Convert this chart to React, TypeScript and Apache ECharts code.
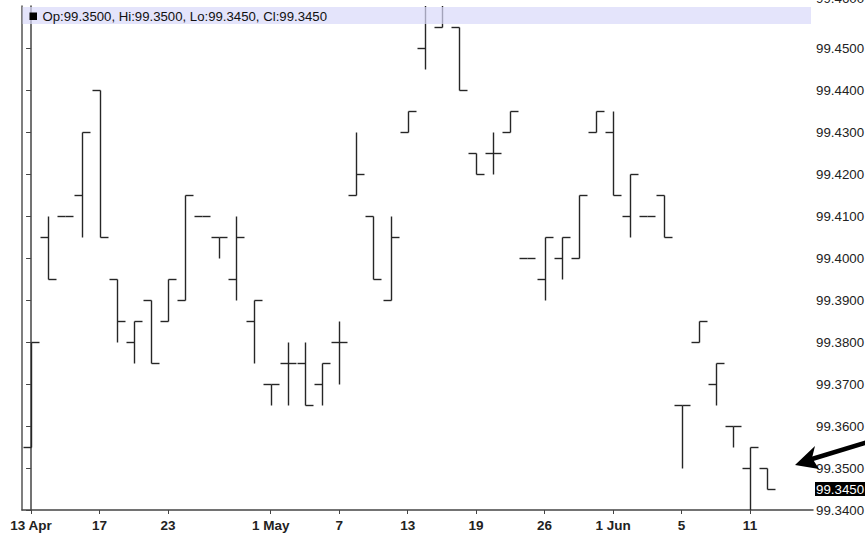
import React, { useEffect, useRef } from "react";
import * as echarts from "echarts";

const tradingDays = [
  "13 Apr", "14 Apr", "15 Apr", "16 Apr", "17 Apr", "20 Apr", "21 Apr", "22 Apr", "23 Apr", "24 Apr",
  "27 Apr", "28 Apr", "29 Apr", "30 Apr", "1 May", "4 May", "5 May", "6 May", "7 May", "8 May",
  "11 May", "12 May", "13 May", "14 May", "15 May", "18 May", "19 May", "20 May", "21 May", "22 May",
  "26 May", "27 May", "28 May", "29 May", "1 Jun", "2 Jun", "3 Jun", "4 Jun", "5 Jun", "8 Jun",
  "9 Jun", "10 Jun", "11 Jun", "12 Jun",
];

const openValues = [
  99.355, 99.405, 99.41, 99.415, 99.44, 99.395, 99.38, 99.39, 99.385, 99.39,
  99.41, 99.405, 99.395, 99.385, 99.37, 99.375, 99.375, 99.37, 99.38, 99.415,
  99.41, 99.39, 99.43, 99.45, 99.455, 99.455, 99.425, 99.425, 99.43, 99.4,
  99.395, 99.4, 99.4, 99.43, 99.43, 99.41, 99.41, 99.415, 99.365, 99.38,
  99.37, 99.36, 99.35, 99.35,
];
const highValues = [
  99.38, 99.41, 99.41, 99.43, 99.44, 99.395, 99.385, 99.39, 99.395, 99.415,
  99.41, 99.405, 99.41, 99.39, 99.37, 99.38, 99.38, 99.375, 99.385, 99.43,
  99.41, 99.41, 99.435, 99.47, 99.47, 99.455, 99.425, 99.43, 99.435, 99.4,
  99.405, 99.405, 99.415, 99.435, 99.435, 99.42, 99.41, 99.415, 99.365, 99.385,
  99.375, 99.36, 99.355, 99.35,
];
const lowValues = [
  99.355, 99.395, 99.41, 99.405, 99.405, 99.38, 99.375, 99.375, 99.385, 99.39,
  99.41, 99.4, 99.39, 99.375, 99.365, 99.365, 99.365, 99.365, 99.37, 99.415,
  99.395, 99.39, 99.43, 99.445, 99.455, 99.44, 99.42, 99.42, 99.43, 99.4,
  99.39, 99.395, 99.4, 99.43, 99.415, 99.405, 99.41, 99.405, 99.35, 99.38,
  99.365, 99.355, 99.34, 99.345,
];
const closeValues = [
  99.38, 99.395, 99.41, 99.43, 99.405, 99.385, 99.385, 99.375, 99.395, 99.415,
  99.41, 99.405, 99.405, 99.39, 99.37, 99.375, 99.365, 99.375, 99.38, 99.42,
  99.395, 99.405, 99.435, 99.465, 99.465, 99.44, 99.42, 99.425, 99.435, 99.4,
  99.405, 99.405, 99.415, 99.435, 99.415, 99.42, 99.41, 99.405, 99.365, 99.385,
  99.375, 99.36, 99.355, 99.345,
];

const tickDates = ["13 Apr", "17 Apr", "23 Apr", "1 May", "7 May", "13 May", "19 May", "26 May", "1 Jun", "5 Jun", "11 Jun"];
const tickLabels = ["13 Apr", "17", "23", "1 May", "7", "13", "19", "26", "1 Jun", "5", "11"];

const yMin = 99.34;
const yMax = 99.46;
const yStep = 0.01;

const FONT = "'Liberation Sans', Arial, sans-serif";
const INK = "#262626";
const YFS = 13.3;

export default function App() {
  const ref = useRef<HTMLDivElement>(null);

  useEffect(() => {
    const chart = echarts.init(ref.current!, null, { renderer: "svg" });
    const tickIdx = tickDates.map((d) => tradingDays.indexOf(d));
    const data = tradingDays.map((_, i) => [i, openValues[i], highValues[i], lowValues[i], closeValues[i]]);
    const last = tradingDays.length - 1;
    const header =
      "Op:" + openValues[last].toFixed(4) +
      ", Hi:" + highValues[last].toFixed(4) +
      ", Lo:" + lowValues[last].toFixed(4) +
      ", Cl:" + closeValues[last].toFixed(4);

    const option: any = {
      animation: false,
      backgroundColor: "#ffffff",
      grid: { left: 22, right: 52, top: 6, bottom: 26, containLabel: false, outerBoundsMode: "none" },
      xAxis: {
        type: "value",
        min: -0.53,
        max: 45.68,
        splitLine: { show: false },
        axisLine: { show: true, lineStyle: { color: "#444", width: 1.5 } },
        axisTick: { show: true, length: 4, customValues: tickIdx, lineStyle: { color: "#444", width: 1 } },
        axisLabel: {
          customValues: tickIdx,
          formatter: (v: number) => {
            const k = tickIdx.indexOf(Math.round(v));
            return k >= 0 ? tickLabels[k] : "";
          },
          fontFamily: FONT,
          fontWeight: "bold",
          fontSize: 13.5,
          color: "#222",
          margin: 8,
        },
      },
      yAxis: [
        {
          type: "value",
          position: "right",
          min: yMin,
          max: yMax,
          interval: yStep,
          splitLine: { show: false },
          axisLine: { show: true, lineStyle: { color: "#444", width: 1.5 } },
          axisTick: { show: true, inside: true, length: 5, lineStyle: { color: "#444" } },
          axisLabel: {
            margin: 3,
            fontFamily: FONT,
            fontSize: YFS,
            color: "#222",
            showMaxLabel: false,
            formatter: (v: number) => v.toFixed(4),
          },
        },
        {
          type: "value",
          position: "left",
          min: yMin,
          max: yMax,
          interval: yStep,
          splitLine: { show: false },
          axisLine: { show: true, lineStyle: { color: "#555", width: 1.5 } },
          axisTick: { show: false },
          axisLabel: { show: false },
        },
        {
          type: "value",
          position: "right",
          min: yMin,
          max: yMax,
          splitLine: { show: false },
          axisLine: { show: false },
          axisTick: { show: false },
          axisLabel: {
            customValues: [closeValues[last]],
            formatter: (v: number) => v.toFixed(4),
            margin: 2,
            fontFamily: FONT,
            fontSize: YFS,
            color: "#fff",
            backgroundColor: "#000",
            padding: [1, 1, 0, 1],
          },
        },
      ],
      series: [
        {
          type: "custom",
          clip: true,
          data,
          encode: { x: 0, y: [1, 2, 3, 4] },
          renderItem: (params: any, api: any) => {
            const x = api.value(0);
            const o = api.coord([x, api.value(1)]);
            const h = api.coord([x, api.value(2)]);
            const l = api.coord([x, api.value(3)]);
            const c = api.coord([x, api.value(4)]);
            const px = Math.round(o[0]) + 0.5;
            const r = (y: number) => Math.round(y) + 0.5;
            const t = 8;
            const st = { stroke: INK, lineWidth: 1.4 };
            return {
              type: "group",
              children: [
                { type: "line", shape: { x1: px, y1: r(h[1]), x2: px, y2: r(l[1]) }, style: st },
                { type: "line", shape: { x1: px - t, y1: r(o[1]), x2: px, y2: r(o[1]) }, style: st },
                { type: "line", shape: { x1: px, y1: r(c[1]), x2: px + t, y2: r(c[1]) }, style: st },
              ],
            };
          },
        },
      ],
      graphic: [
        {
          type: "rect",
          z: 100,
          shape: { x: 22.5, y: 7, width: 788.5, height: 17 },
          style: { fill: "rgba(216,216,250,0.7)" },
          silent: true,
        },
        {
          type: "rect",
          z: 101,
          shape: { x: 29.5, y: 12.5, width: 7.5, height: 7.5 },
          style: { fill: "#000" },
          silent: true,
        },
        {
          type: "text",
          z: 101,
          x: 42.5,
          y: 16.5,
          style: {
            text: header,
            fontFamily: FONT,
            fontSize: 13.2,
            fill: "#111",
            verticalAlign: "middle",
          },
          silent: true,
        },
        {
          type: "text",
          z: 101,
          x: 816,
          y: -2,
          style: {
            text: yMax.toFixed(4),
            fontFamily: FONT,
            fontSize: YFS,
            fill: "#222",
            verticalAlign: "middle",
          },
          silent: true,
        },
        {
          type: "line",
          z: 102,
          shape: { x1: 812, y1: 459, x2: 868, y2: 442 },
          style: { stroke: "#000", lineWidth: 4.5 },
          silent: true,
        },
        {
          type: "polygon",
          z: 102,
          shape: { points: [[795, 465], [815, 446], [812, 458], [819, 469]] },
          style: { fill: "#000" },
          silent: true,
        },
      ],
    };
    chart.setOption(option);
    return () => chart.dispose();
  }, []);

  return (
    <div
      ref={ref}
      style={{ position: "fixed", left: 0, top: 0, width: 865, height: 536, background: "#fff" }}
    />
  );
}
